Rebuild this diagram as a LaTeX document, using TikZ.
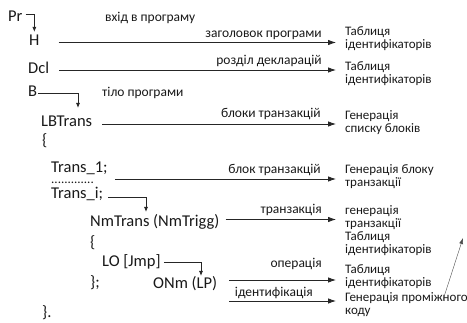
\documentclass[tikz,border=0pt]{standalone}
\usepackage{fontspec}
\setmainfont{Carlito}
\usetikzlibrary{arrows.meta}
\begin{document}
\begin{tikzpicture}[x=1pt,y=-1pt,
  code/.style={anchor=base west,inner sep=0pt,text=black!90,font=\fontsize{16.5}{18}\selectfont},
  lbl/.style={anchor=base east,inner sep=0pt,text=black!90,font=\fontsize{13.5}{14}\selectfont},
  note/.style={anchor=base west,inner sep=0pt,text=black!90,font=\fontsize{13.5}{14}\selectfont},
  res/.style={anchor=base west,inner sep=0pt,align=left,text=black!90,font=\fontsize{13}{13}\selectfont},
  arr/.style={draw=black!85,line width=0.8pt,-{Latex[length=8pt,width=5.5pt]}},
  elbow/.style={draw=black!85,line width=0.8pt,-{Latex[length=5pt,width=4pt]}},
  thin arrow/.style={draw=black!70,line width=0.4pt,-{Latex[length=6pt,width=4pt]}},
]
\useasboundingbox (0,0) rectangle (467,323);

% program structure (left column)
\node[code] (Pr)   at (8,22)   {Pr};
\node[code] (H)    at (29,46)  {H};
\node[code] (Dcl)  at (28,74)  {Dcl};
\node[code] (B)    at (28,97)  {B};
\node[code] (LB)   at (41,127) {LBTrans};
\node[code] (ob1)  at (42,146) {\{};
\node[code] (T1)   at (51,172.5) {Trans\_1;};
\node[code,font=\fontsize{13}{13}\selectfont] (dots) at (51,184) {.............};
\node[code] (Ti)   at (51,199) {Trans\_i;};
\node[code] (Nm)   at (90,227) {NmTrans (NmTrigg)};
\node[code] (ob2)  at (90,248) {\{};
\node[code] (LO)   at (102,267) {LO [Jmp]};
\node[code] (cb2)  at (90,288) {\};};
\node[code] (ONm)  at (153,289) {ONm (LP)};
\node[code] (cb1)  at (42,318) {\}.};

% comments without arrows
\node[note] (in)   at (105,22) {вхід в програму};
\node[note] (body) at (102,97) {тіло програми};

% results (right column); each node sits on the baseline of its last line
\node[res] (t1) at (345,48.5) {Таблиця\\ідентифікаторів};
\node[res] (t2) at (345,84)   {Таблиця\\ідентифікаторів};
\node[res] (g1) at (345,133)  {Генерація\\списку блоків};
\node[res] (g2) at (345,187)  {Генерація блоку\\транзакції};
\node[res] (g3) at (345,254)  {генерація\\транзакції\\Таблиця\\ідентифікаторів};
\node[res] (t3) at (345,287)  {Таблиця\\ідентифікаторів};
\node[res] (g4) at (345,315)  {Генерація проміжного\\коду};

% arrow labels
\node[lbl] (l1) at (322,38)  {заголовок програми};
\node[lbl] (l2) at (322,65)  {розділ декларацій};
\node[lbl] (l3) at (321,118) {блоки транзакцій};
\node[lbl] (l4) at (321,174) {блок транзакцій};
\node[lbl] (l5) at (322,214) {транзакція};
\node[lbl] (l6) at (322,268) {операція};
\node[lbl] (l7) at (313,297) {ідентифікація};

% nesting connectors
\draw[elbow] ([xshift=3pt,yshift=8pt]Pr.base east) -| ([yshift=14pt]H.base);
\draw[elbow] ([xshift=1pt,yshift=4pt]B.base east) -| ([xshift=37pt,yshift=19pt]LB.base west);
\draw[elbow] ([xshift=5pt,yshift=1.5pt]Ti.base east) -| ([xshift=56pt,yshift=15pt]Nm.base west);
\draw[elbow] ([xshift=3pt,yshift=5pt]LO.base east) -| ([xshift=48pt,yshift=13pt]ONm.base west);

% translation arrows
\draw[arr] ([xshift=19pt,yshift=3.5pt]H.base east)  -- ([xshift=-9pt,yshift=6pt]t1.base west);
\draw[arr] ([xshift=10pt,yshift=4pt]Dcl.base east)   -- ([xshift=-9pt,yshift=14pt]t2.base west);
\draw[arr] ([xshift=10pt,yshift=3pt]LB.base east)    -- ([xshift=-9pt,yshift=9pt]g1.base west);
\draw[arr] ([xshift=7pt,yshift=-6.5pt]T1.base east)  -- ([xshift=-9pt,yshift=8pt]g2.base west);
\draw[arr] ([xshift=6pt,yshift=7.5pt]Nm.base east)   -- ([xshift=-9pt,yshift=34.5pt]g3.base west);
\draw[arr] ([xshift=12pt,yshift=9pt]ONm.base east)   -- ([xshift=-9pt,yshift=7pt]t3.base west);
\draw[arr] ([xshift=12pt,yshift=-12pt]ONm.base east) -- ([xshift=-9pt,yshift=14pt]g4.base west);

% thin upward arrow
\coordinate (sa) at (443,300);
\coordinate (sb) at (463,238);
\draw[thin arrow] (sa) -- (sb);
\end{tikzpicture}
\end{document}
